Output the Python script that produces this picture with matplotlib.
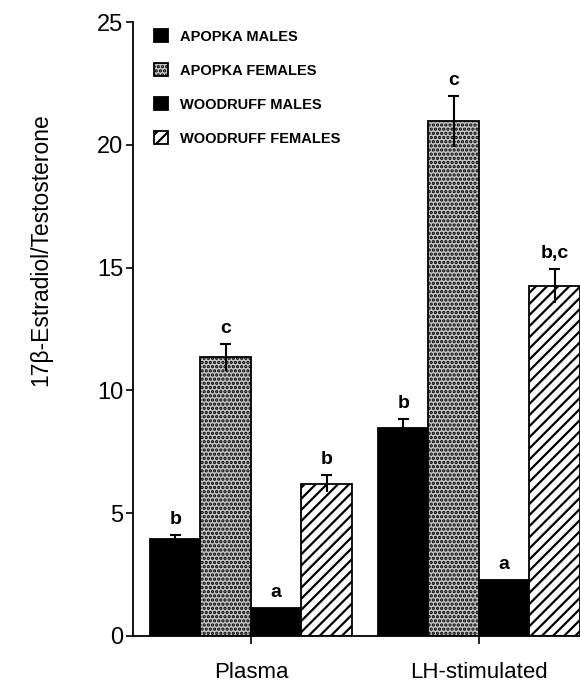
import matplotlib.pyplot as plt
import numpy as np

plt.rcParams['font.family'] = ['Liberation Sans', 'DejaVu Sans']
plt.rcParams['hatch.linewidth'] = 1.6

CONDITIONS = ['Plasma', 'LH-stimulated']
GROUPS = ['APOPKA MALES', 'APOPKA FEMALES', 'WOODRUFF MALES', 'WOODRUFF FEMALES']

# ratio means and SE per group, one row per condition
MEANS = {
    'APOPKA MALES':     [3.95, 8.45],
    'APOPKA FEMALES':   [11.35, 20.95],
    'WOODRUFF MALES':   [1.15, 2.3],
    'WOODRUFF FEMALES': [6.2, 14.25],
}
ERRORS = {
    'APOPKA MALES':     [0.15, 0.4],
    'APOPKA FEMALES':   [0.55, 1.05],
    'WOODRUFF MALES':   [0.0, 0.0],
    'WOODRUFF FEMALES': [0.35, 0.7],
}
LETTERS = {
    'APOPKA MALES':     ['b', 'b'],
    'APOPKA FEMALES':   ['c', 'c'],
    'WOODRUFF MALES':   ['a', 'a'],
    'WOODRUFF FEMALES': ['b', 'b,c'],
}

STYLES = {
    'APOPKA MALES':     dict(facecolor='black', hatch=None),
    'APOPKA FEMALES':   dict(facecolor='#c4c4c4', hatch='....'),
    'WOODRUFF MALES':   dict(facecolor='black', hatch=None),
    'WOODRUFF FEMALES': dict(facecolor='white', hatch='///'),
}

WIDTH = 0.2215

fig = plt.figure(figsize=(5.8, 6.86), dpi=100)
ax = fig.add_axes([0.2293, 0.0729, 0.7707, 0.8950])

x = np.arange(len(CONDITIONS))
handles = []
for i, g in enumerate(GROUPS):
    pos = x + (i - 1.5) * WIDTH
    bars = ax.bar(pos, MEANS[g], WIDTH, edgecolor='black', linewidth=1.3,
                  label=g, **STYLES[g])
    handles.append(bars)
    err = np.array(ERRORS[g])
    top = np.array(MEANS[g]) + err
    shown = err > 0
    ax.vlines(pos[shown], (np.array(MEANS[g]) - err)[shown], top[shown],
              color='black', linewidth=1.5, zorder=3)
    ax.hlines(top[shown], pos[shown] - 0.025, pos[shown] + 0.025,
              color='black', linewidth=1.5, zorder=3)
    for px, ty, lab in zip(pos, top, LETTERS[g]):
        ax.annotate(lab, (px, ty), xytext=(0, 5), textcoords='offset points',
                    ha='center', va='bottom', fontsize=14, weight='bold')

ax.set_xlim(-0.5175, 1.443)
ax.set_ylim(0, 25)
ax.set_yticks([0, 5, 10, 15, 20, 25])
ax.set_xticks(x)
ax.set_xticklabels(CONDITIONS, fontsize=16)
ax.tick_params(axis='y', labelsize=17, length=5, width=1.2, pad=2)
ax.tick_params(axis='x', length=6, width=1.2, pad=13)

for side in ('top', 'right'):
    ax.spines[side].set_visible(False)
for side in ('left', 'bottom'):
    ax.spines[side].set_linewidth(1.3)

ax.set_ylabel('17β-Estradiol/Testosterone', fontsize=16.5)
ax.yaxis.set_label_coords(-0.18, 0.63)

ax.legend(handles=handles, loc='upper left', bbox_to_anchor=(0.03, 1.0),
          frameon=False, borderpad=0, handlelength=1.0, handleheight=1.0,
          handletextpad=0.8, labelspacing=1.33,
          prop=dict(family='Liberation Sans', weight='bold', size=10.5))

fig.savefig('out.png', dpi=100)
